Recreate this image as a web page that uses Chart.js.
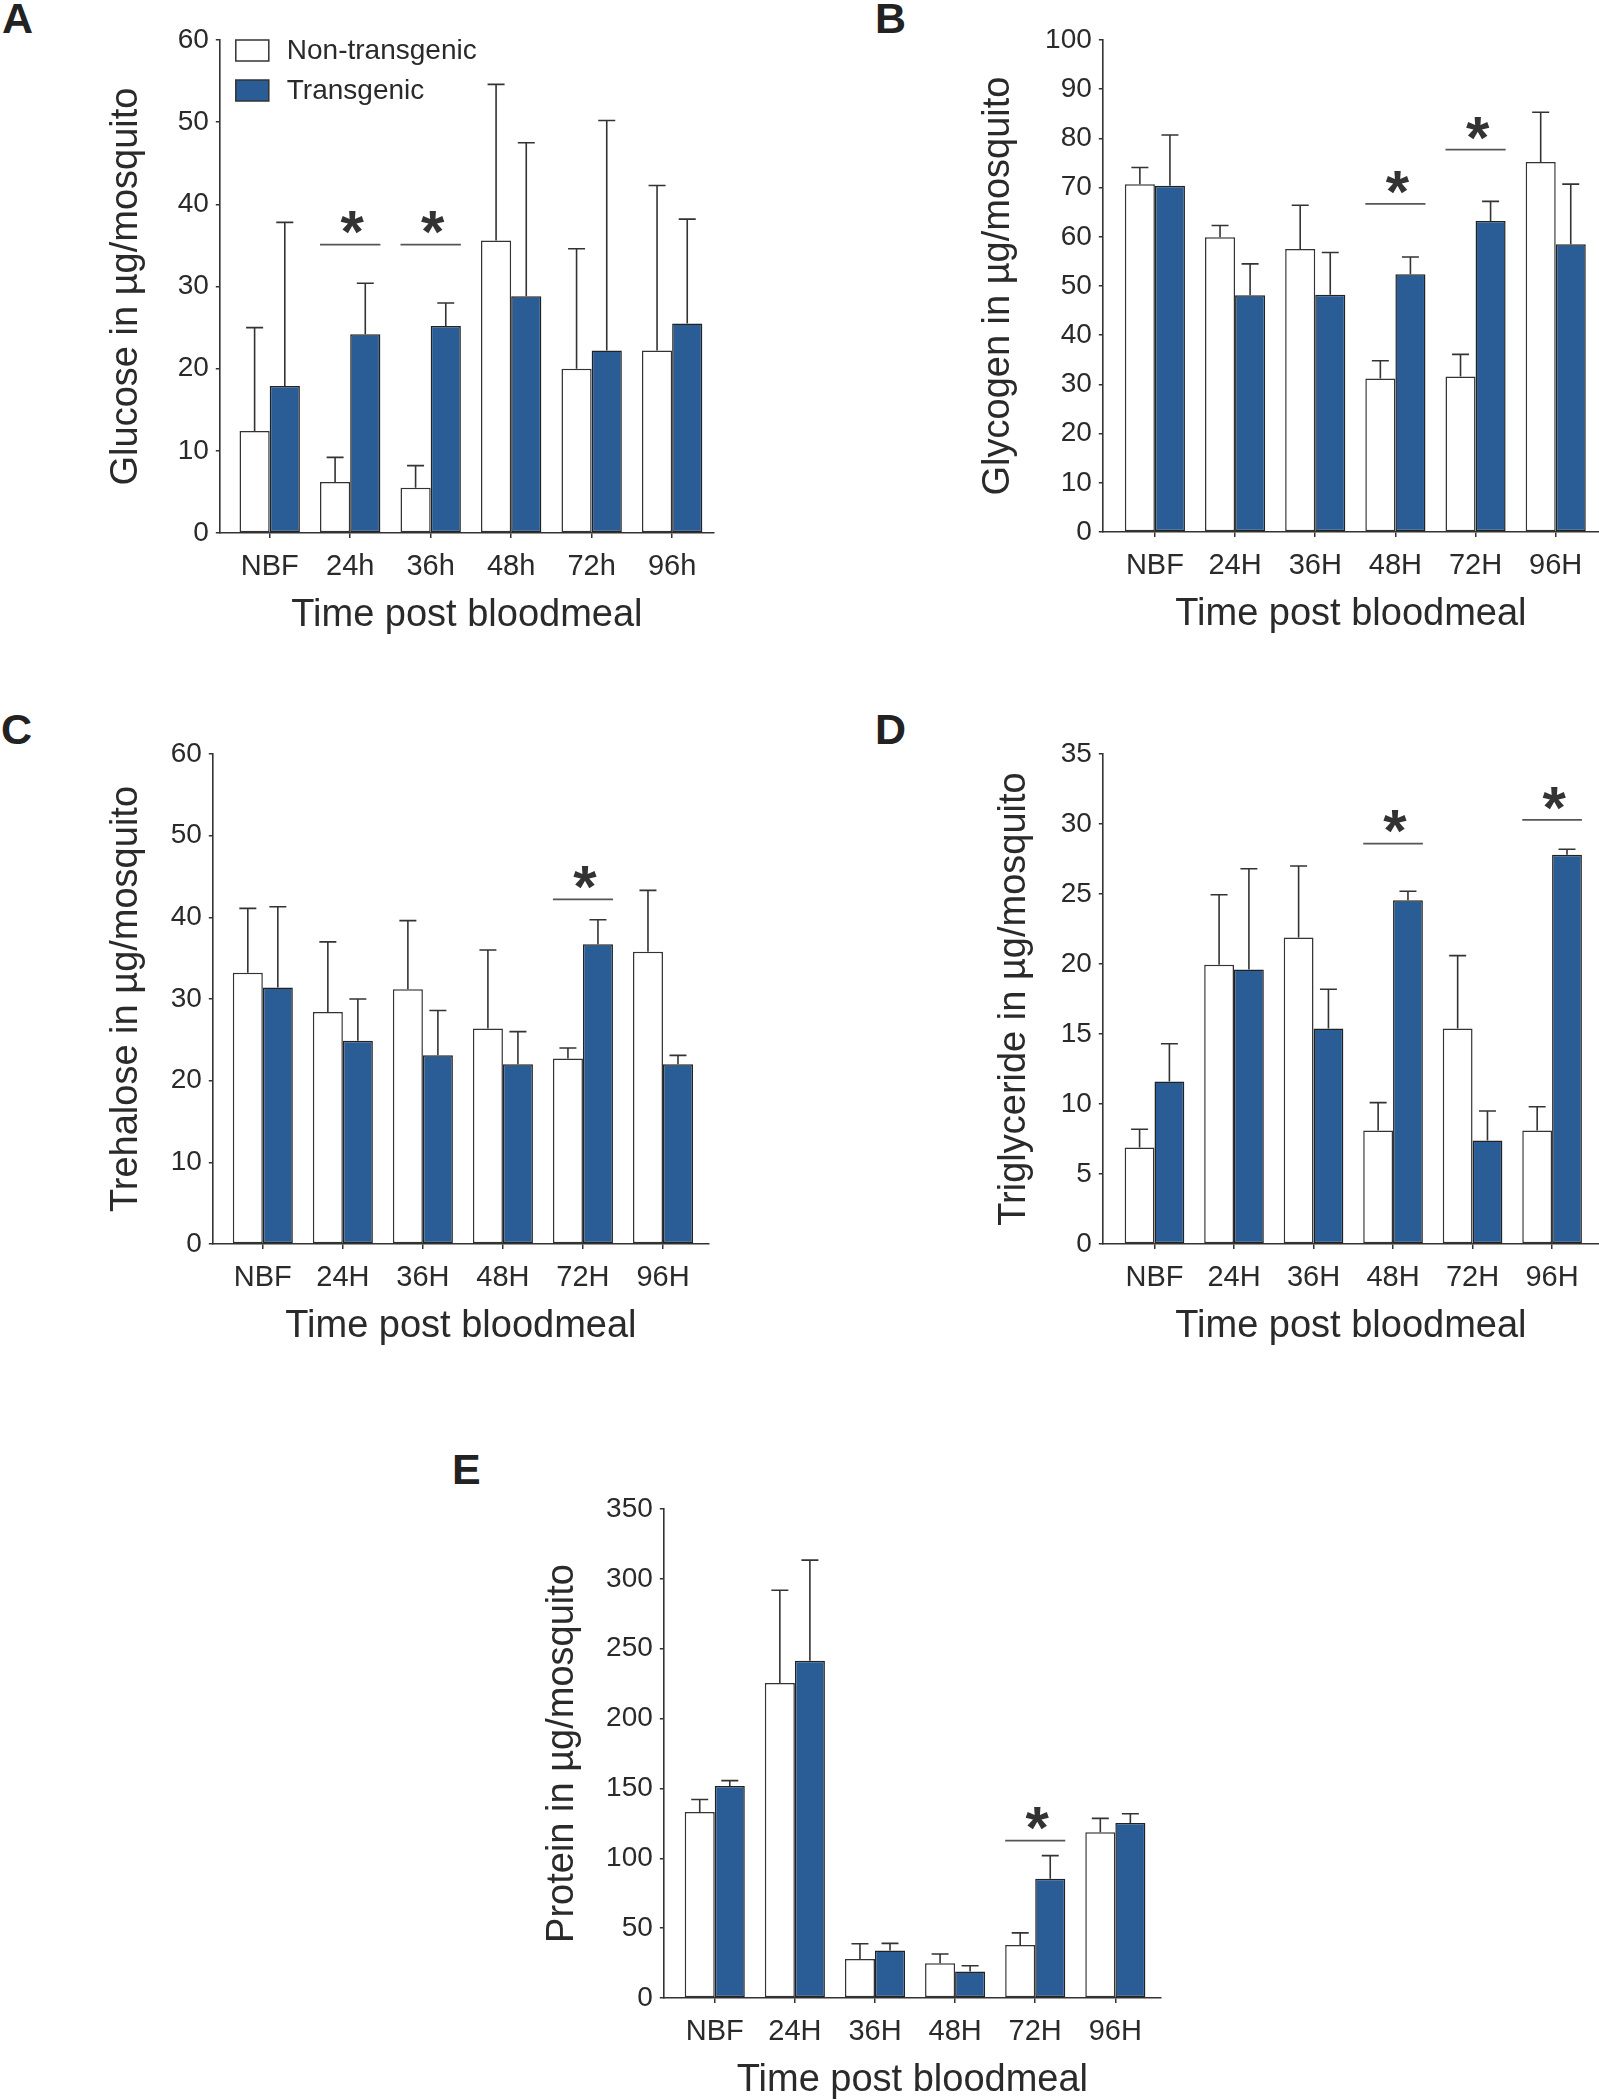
<!DOCTYPE html>
<html>
<head>
<meta charset="utf-8">
<script src="https://cdn.jsdelivr.net/npm/chart.js@4.4.1/dist/chart.umd.min.js"></script>
<style>
  html, body { margin: 0; padding: 0; background: #ffffff; }
  body { width: 1599px; height: 2100px; position: relative; overflow: hidden;
         font-family: "Liberation Sans", Arial, Helvetica, sans-serif; }
  .letter { position: absolute; font-weight: bold; font-size: 43px; line-height: 1; color: #222; }
  .panel { position: absolute; }
  .panel canvas { display: block; }
</style>
</head>
<body>
<div class="letter" style="left:2px;top:-3px">A</div>
<div class="letter" style="left:875px;top:-3px">B</div>
<div class="letter" style="left:1px;top:708px">C</div>
<div class="letter" style="left:875px;top:708px">D</div>
<div class="letter" style="left:452px;top:1448px">E</div>

<script>
// ---------------- DATA ----------------
const seriesNames = ['Non-transgenic', 'Transgenic'];
const timesLower = ['NBF', '24h', '36h', '48h', '72h', '96h'];
const timesUpper = ['NBF', '24H', '36H', '48H', '72H', '96H'];

// A: Glucose (µg/mosquito), mean and SEM
const glucoseNon    = [12.4, 6.2, 5.5, 35.6, 20.0, 22.2];
const glucoseNonSem = [12.6, 3.0, 2.7, 19.0, 14.6, 20.1];
const glucoseTg     = [17.9, 24.2, 25.2, 28.8, 22.2, 25.5];
const glucoseTgSem  = [19.9, 6.2, 2.8, 18.7, 28.0, 12.7];
const glucoseSigIdx   = [1, 2];
const glucoseSigLevel = [35.1, 35.1];
const glucoseTicks = [0, 10, 20, 30, 40, 50, 60];

// B: Glycogen
const glycogenNon    = [70.7, 59.9, 57.5, 31.2, 31.6, 75.2];
const glycogenNonSem = [3.4, 2.4, 8.9, 3.6, 4.5, 10.1];
const glycogenTg     = [70.4, 48.1, 48.2, 52.4, 63.2, 58.5];
const glycogenTgSem  = [10.3, 6.4, 8.6, 3.5, 4.0, 12.2];
const glycogenSigIdx   = [3, 4];
const glycogenSigLevel = [66.7, 77.7];
const glycogenTicks = [0, 10, 20, 30, 40, 50, 60, 70, 80, 90, 100];

// C: Trehalose
const trehaloseNon    = [33.2, 28.4, 31.2, 26.4, 22.7, 35.8];
const trehaloseNonSem = [7.9, 8.6, 8.4, 9.6, 1.3, 7.5];
const trehaloseTg     = [31.4, 24.9, 23.1, 22.0, 36.7, 22.0];
const trehaloseTgSem  = [9.9, 5.1, 5.5, 4.0, 3.0, 1.1];
const trehaloseSigIdx   = [4];
const trehaloseSigLevel = [42.2];
const trehaloseTicks = [0, 10, 20, 30, 40, 50, 60];

// D: Triglyceride
const triglycNon    = [6.9, 19.95, 21.9, 8.1, 15.4, 8.1];
const triglycNonSem = [1.3, 5.0, 5.1, 2.0, 5.2, 1.7];
const triglycTg     = [11.6, 19.6, 15.4, 24.55, 7.4, 27.8];
const triglycTgSem  = [2.7, 7.2, 2.8, 0.65, 2.1, 0.4];
const triglycSigIdx   = [3, 5];
const triglycSigLevel = [28.6, 30.3];
const triglycTicks = [0, 5, 10, 15, 20, 25, 30, 35];

// E: Protein
const proteinNon    = [133.1, 225.4, 27.9, 24.9, 37.9, 118.7];
const proteinNonSem = [9.0, 66.4, 10.9, 6.6, 8.7, 9.9];
const proteinTg     = [151.7, 241.3, 34.0, 18.9, 85.3, 125.3];
const proteinTgSem  = [3.9, 72.1, 5.1, 4.2, 16.6, 6.6];
const proteinSigIdx   = [4];
const proteinSigLevel = [112.7];
const proteinTicks = [0, 50, 100, 150, 200, 250, 300, 350];

// ---------------- STYLE ----------------
const FONT = '"Liberation Sans", Arial, Helvetica, sans-serif';
const INK = '#2a2a2a';
const BLUE = '#2a5c95';
Chart.defaults.font.family = FONT;
Chart.defaults.color = INK;

const errorBarPlugin = {
  id: 'errbars',
  afterDatasetsDraw(chart, args, opts) {
    const ctx = chart.ctx, ys = chart.scales.y;
    chart.data.datasets.forEach((ds, di) => {
      const meta = chart.getDatasetMeta(di);
      meta.data.forEach((bar, i) => {
        const top = ys.getPixelForValue(ds.data[i].y + ds.sem[i]);
        ctx.save();
        ctx.strokeStyle = opts.color; ctx.lineWidth = opts.width;
        ctx.beginPath();
        ctx.moveTo(bar.x, bar.y); ctx.lineTo(bar.x, top);
        ctx.moveTo(bar.x - opts.cap / 2, top); ctx.lineTo(bar.x + opts.cap / 2, top);
        ctx.stroke(); ctx.restore();
      });
    });
  }
};

const sigPlugin = {
  id: 'sig',
  afterDatasetsDraw(chart, args, opts) {
    if (!opts.idx) return;
    const ctx = chart.ctx, ys = chart.scales.y;
    const m0 = chart.getDatasetMeta(0), m1 = chart.getDatasetMeta(1);
    opts.idx.forEach((k, j) => {
      const b0 = m0.data[k], b1 = m1.data[k];
      const x0 = b0.x - b0.width / 2, x1 = b1.x + b1.width / 2;
      const yy = ys.getPixelForValue(opts.level[j]);
      ctx.save();
      ctx.strokeStyle = '#555'; ctx.lineWidth = 1.7;
      ctx.beginPath(); ctx.moveTo(x0, yy); ctx.lineTo(x1, yy); ctx.stroke();
      ctx.fillStyle = '#333';
      ctx.font = 'bold ' + opts.starSize + 'px ' + FONT;
      ctx.textAlign = 'center'; ctx.textBaseline = 'alphabetic';
      ctx.fillText('*', (x0 + x1) / 2 + 2, yy - opts.starGap + 0.58 * opts.starSize);
      ctx.restore();
    });
  }
};

const legendPlugin = {
  id: 'innerLegend',
  afterDraw(chart, args, opts) {
    if (!opts.show) return;
    const ctx = chart.ctx, a = chart.chartArea;
    chart.data.datasets.forEach((ds, i) => {
      const bx = a.left + opts.dx, by = a.top + opts.dy + i * opts.step;
      ctx.save();
      ctx.fillStyle = ds.backgroundColor; ctx.strokeStyle = '#333'; ctx.lineWidth = 1.5;
      ctx.fillRect(bx, by, opts.w, opts.h); ctx.strokeRect(bx, by, opts.w, opts.h);
      ctx.fillStyle = INK; ctx.font = opts.fontSize + 'px ' + FONT;
      ctx.textAlign = 'left'; ctx.textBaseline = 'middle';
      ctx.fillText(ds.label, bx + opts.w + 18, by + opts.h / 2 + 1);
      ctx.restore();
    });
  }
};

function makePanel(p) {
  const boxLeft = p.yTitleX - 29.8;
  const boxTop = p.T - 25;
  const boxRight = p.R + 2 > 1599 ? 1599 : p.R + 2;
  const xAxisH = 105;
  const boxBottom = p.B + xAxisH;
  const w = Math.round(boxRight - boxLeft), h = Math.round(boxBottom - boxTop);
  const div = document.createElement('div');
  div.className = 'panel';
  div.style.left = boxLeft + 'px'; div.style.top = boxTop + 'px';
  div.style.width = w + 'px'; div.style.height = h + 'px';
  const cv = document.createElement('canvas');
  cv.width = w; cv.height = h; cv.style.width = w + 'px'; cv.style.height = h + 'px';
  div.appendChild(cv); document.body.appendChild(div);

  const toPts = arr => arr.map((v, i) => ({ x: i, y: v }));
  const yMax = p.ticks[p.ticks.length - 1];
  new Chart(cv.getContext('2d'), {
    type: 'bar',
    data: {
      datasets: [
        { label: seriesNames[0], data: toPts(p.non), sem: p.nonSem,
          backgroundColor: '#ffffff', borderColor: '#333', borderWidth: 1.5, borderSkipped: false },
        { label: seriesNames[1], data: toPts(p.tg), sem: p.tgSem,
          backgroundColor: BLUE, borderColor: '#222', borderWidth: 1.5, borderSkipped: false }
      ]
    },
    options: {
      responsive: false, animation: false,
      categoryPercentage: 0.75, barPercentage: 1.0,
      layout: { padding: { left: 0, top: p.T - boxTop, right: boxRight - p.R, bottom: 0 } },
      plugins: {
        legend: { display: false }, tooltip: { enabled: false },
        errbars: { color: '#333', width: 1.6, cap: 17 },
        sig: { idx: p.sigIdx, level: p.sigLevel, starSize: 60, starGap: 27 },
        innerLegend: { show: !!p.legend, dx: 16, dy: 0, step: 40, w: 33, h: 21, fontSize: 28 }
      },
      scales: {
        x: {
          type: 'linear', min: p.xmin, max: p.xmax, offset: false,
          afterFit: s => { s.height = xAxisH; },
          afterBuildTicks: s => { s.ticks = p.cats.map((c, i) => ({ value: i })); },
          ticks: { stepSize: 1, includeBounds: false, autoSkip: false, maxRotation: 0,
                   font: { size: 29 }, color: INK, padding: 12,
                   callback: v => p.cats[Math.round(v)] },
          grid: { display: true, offset: false, drawOnChartArea: false, drawTicks: true,
                  tickLength: 5, color: '#333', lineWidth: 1.5 },
          border: { display: true, color: '#333', width: 1.6 },
          title: { display: true, text: 'Time post bloodmeal', font: { size: 38 }, color: INK,
                   padding: { top: 0, bottom: 0 } }
        },
        y: {
          type: 'linear', min: 0, max: yMax,
          afterFit: s => { s.width = p.L - boxLeft; },
          afterBuildTicks: s => { s.ticks = p.ticks.map(v => ({ value: v })); },
          ticks: { font: { size: 28 }, color: INK, padding: 7 },
          grid: { display: true, drawOnChartArea: false, drawTicks: true,
                  tickLength: 4, color: '#333', lineWidth: 1.5 },
          border: { display: true, color: '#333', width: 1.6 },
          title: { display: true, text: p.yTitle, font: { size: 38 }, color: INK,
                   padding: { top: 7, bottom: 0 } }
        }
      }
    },
    plugins: [errorBarPlugin, sigPlugin, legendPlugin]
  });
}

makePanel({ L: 220, R: 714, T: 40, B: 533, yTitleX: 127, xmin: -0.62, xmax: 5.52,
  cats: timesLower, ticks: glucoseTicks, yTitle: 'Glucose in µg/mosquito',
  non: glucoseNon, nonSem: glucoseNonSem, tg: glucoseTg, tgSem: glucoseTgSem,
  sigIdx: glucoseSigIdx, sigLevel: glucoseSigLevel, legend: true });

makePanel({ L: 1103, R: 1599, T: 40, B: 532, yTitleX: 999, xmin: -0.65, xmax: 5.54,
  cats: timesUpper, ticks: glycogenTicks, yTitle: 'Glycogen in µg/mosquito',
  non: glycogenNon, nonSem: glycogenNonSem, tg: glycogenTg, tgSem: glycogenTgSem,
  sigIdx: glycogenSigIdx, sigLevel: glycogenSigLevel });

makePanel({ L: 213, R: 709, T: 754, B: 1244, yTitleX: 127, xmin: -0.625, xmax: 5.575,
  cats: timesUpper, ticks: trehaloseTicks, yTitle: 'Trehalose in µg/mosquito',
  non: trehaloseNon, nonSem: trehaloseNonSem, tg: trehaloseTg, tgSem: trehaloseTgSem,
  sigIdx: trehaloseSigIdx, sigLevel: trehaloseSigLevel });

makePanel({ L: 1103, R: 1599, T: 754, B: 1244, yTitleX: 1015, xmin: -0.65, xmax: 5.59,
  cats: timesUpper, ticks: triglycTicks, yTitle: 'Triglyceride in µg/mosquito',
  non: triglycNon, nonSem: triglycNonSem, tg: triglycTg, tgSem: triglycTgSem,
  sigIdx: triglycSigIdx, sigLevel: triglycSigLevel });

makePanel({ L: 664, R: 1161, T: 1509, B: 1998, yTitleX: 563, xmin: -0.636, xmax: 5.57,
  cats: timesUpper, ticks: proteinTicks, yTitle: 'Protein in µg/mosquito',
  non: proteinNon, nonSem: proteinNonSem, tg: proteinTg, tgSem: proteinTgSem,
  sigIdx: proteinSigIdx, sigLevel: proteinSigLevel });
</script>
</body>
</html>
